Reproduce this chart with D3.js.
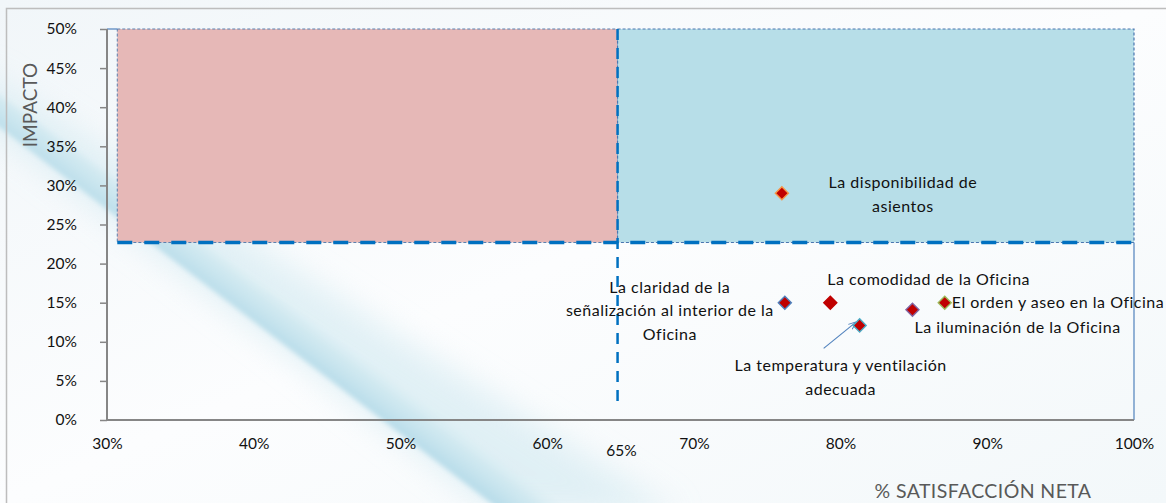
<!DOCTYPE html>
<html>
<head>
<meta charset="utf-8">
<script src="https://cdn.jsdelivr.net/npm/d3@7"></script>
<style>
  html, body { margin: 0; padding: 0; background: #fff; }
  svg { display: block; font-family: Lato, "Noto Sans", sans-serif; }
</style>
</head>
<body>
<svg id="chart" width="1166" height="503"></svg>
<script>
// ---- data ----
const labels = [
  ["La disponibilidad de", "asientos"],
  ["La claridad de la", "señalización al interior de la", "Oficina"],
  ["La comodidad de la Oficina"],
  ["La temperatura y ventilación", "adecuada"],
  ["La iluminación de la Oficina"],
  ["El orden y aseo en la Oficina"]
];
const satisfaccion = [0.760, 0.762, 0.793, 0.813, 0.849, 0.871];
const impacto      = [0.290, 0.150, 0.150, 0.121, 0.141, 0.150];
const xTicks = [0.3, 0.4, 0.5, 0.6, 0.7, 0.8, 0.9, 1.0];
const yTicks = [0, 0.05, 0.1, 0.15, 0.2, 0.25, 0.3, 0.35, 0.4, 0.45, 0.5];
const satThreshold = 0.648;     // vertical divider
const satThresholdLabel = "65%";
const impThreshold = 0.227;     // horizontal divider
const quadStart = 0.307;        // left edge of shaded quadrant
const dividerBottom = 0.022;    // lower end of vertical divider
const xTitle = "% SATISFACCIÓN NETA";
const yTitle = "IMPACTO";

// ---- styles (not data) ----
const outlineColors = ["#F79646", "#4F81BD", "#C00000", "#4BACC6", "#8064A2", "#9BBB59"];
// label placement offsets relative to point: [dx, dy of first baseline, anchor]
const labelPlace = [
  [121, -5, "middle"],
  [-115, -10, "middle"],
  [-3, -18, "start"],
  [-19, 46, "middle"],
  [2, 23, "start"],
  [7, 5, "start"]
];
const lineH = 23.5;

const svg = d3.select("#chart");
const W = 1166, H = 503;

// ---- background with swoosh ----
const defs = svg.append("defs");
const bg = defs.append("linearGradient").attr("id", "bgGrad")
  .attr("x1", 0).attr("y1", 0).attr("x2", 1).attr("y2", 1);
bg.append("stop").attr("offset", "0%").attr("stop-color", "#f1f6f9");
bg.append("stop").attr("offset", "50%").attr("stop-color", "#fcfdfe");
bg.append("stop").attr("offset", "100%").attr("stop-color", "#f3f8fa");
svg.append("rect").attr("width", W).attr("height", H).attr("fill", "url(#bgGrad)");

const blur = defs.append("filter").attr("id", "soft").attr("x", "-20%").attr("y", "-20%").attr("width", "140%").attr("height", "140%");
blur.append("feGaussianBlur").attr("stdDeviation", 2.5);
const blur2 = defs.append("filter").attr("id", "soft2").attr("x", "-20%").attr("y", "-20%").attr("width", "140%").attr("height", "140%");
blur2.append("feGaussianBlur").attr("stdDeviation", 16);

// wide faint band
svg.append("path")
  .attr("d", "M-20,70 L-20,120 L500,515 L680,515 Z")
  .attr("fill", "#d6ebf2").attr("opacity", 0.7).attr("filter", "url(#soft2)");
// stronger band near its lower edge
const bandGrad = defs.append("linearGradient").attr("id", "bandGrad")
  .attr("gradientUnits", "userSpaceOnUse")
  .attr("x1", 230).attr("y1", 303).attr("x2", 254).attr("y2", 271);
bandGrad.append("stop").attr("offset", "0%").attr("stop-color", "#b9ddea").attr("stop-opacity", 1);
bandGrad.append("stop").attr("offset", "55%").attr("stop-color", "#c8e5ee").attr("stop-opacity", 0.7);
bandGrad.append("stop").attr("offset", "100%").attr("stop-color", "#d6ecf2").attr("stop-opacity", 0);
svg.append("path")
  .attr("d", "M-20,80 L-20,112 L500,510 L570,510 Z")
  .attr("fill", "url(#bandGrad)").attr("filter", "url(#soft)");

// outer frame
svg.append("path").attr("d", `M6.5,${H} L6.5,8.5 L${W},8.5`)
  .attr("fill", "none").attr("stroke", "#bdbdbd").attr("stroke-width", 1.5);

// ---- scales ----
const x = d3.scaleLinear().domain([0.30, 1.00]).range([107, 1134]);
const y = d3.scaleLinear().domain([0, 0.50]).range([420, 29]);
const pct = d3.format(".0%");

// ---- quadrants ----
svg.append("rect")
  .attr("x", x(quadStart)).attr("y", y(0.5))
  .attr("width", x(satThreshold) - x(quadStart)).attr("height", y(impThreshold) - y(0.5))
  .attr("fill", "#E6B8B7").attr("stroke", "#5b7fae").attr("stroke-width", 1)
  .attr("stroke-dasharray", "3,2");
svg.append("rect")
  .attr("x", x(satThreshold)).attr("y", y(0.5))
  .attr("width", x(1.0) - x(satThreshold)).attr("height", y(impThreshold) - y(0.5))
  .attr("fill", "#B7DEE8").attr("stroke", "#4a76b0").attr("stroke-width", 1.2)
  .attr("stroke-dasharray", "3,2");

// thin blue frame lines (top-left stub and right edge)
svg.append("line").attr("x1", x(0.30)).attr("x2", x(quadStart)).attr("y1", y(0.5)).attr("y2", y(0.5))
  .attr("stroke", "#4F81BD").attr("stroke-width", 1.2);
svg.append("line").attr("x1", x(1.0)).attr("x2", x(1.0)).attr("y1", y(impThreshold)).attr("y2", y(0))
  .attr("stroke", "#4F81BD").attr("stroke-width", 1.2);

// horizontal thick dashed divider
svg.append("line")
  .attr("x1", x(quadStart)).attr("x2", x(1.0)).attr("y1", y(impThreshold)).attr("y2", y(impThreshold))
  .attr("stroke", "#0070C0").attr("stroke-width", 3.5).attr("stroke-dasharray", "15,12");
// vertical dashed divider
svg.append("line")
  .attr("x1", x(satThreshold)).attr("x2", x(satThreshold)).attr("y1", y(0.5)).attr("y2", y(dividerBottom))
  .attr("stroke", "#0070C0").attr("stroke-width", 2.5).attr("stroke-dasharray", "11,8");

// ---- axes ----
const axisColor = "#868686";
const yAxis = svg.append("g").attr("transform", `translate(${x(0.30)},0)`)
  .call(d3.axisLeft(y).tickValues(yTicks).tickFormat(pct).tickSize(7).tickPadding(23));
const xAxis = svg.append("g").attr("transform", `translate(0,${y(0)})`)
  .call(d3.axisBottom(x).tickValues(xTicks).tickFormat(pct).tickSize(0).tickPadding(18));
[yAxis, xAxis].forEach(g => {
  g.select(".domain").attr("stroke", axisColor).attr("stroke-width", 2);
  g.selectAll(".tick line").attr("stroke", axisColor).attr("stroke-width", 1.5);
  g.selectAll("text").attr("fill", "#111").style("font-size", "15.5px").style("font-family", "Lato, sans-serif");
});
yAxis.select(".domain").attr("d", `M0,${y(0.5)}V${y(0)}`);
xAxis.select(".domain").attr("d", `M${x(0.30)},0H${x(1.0)}`);

// 65% label for divider
svg.append("text").attr("x", x(satThreshold) + 4).attr("y", y(0) + 36)
  .attr("text-anchor", "middle").attr("fill", "#111").style("font-size", "15.5px")
  .text(satThresholdLabel);

// axis titles
svg.append("text").attr("transform", `translate(37,105) rotate(-90)`)
  .attr("text-anchor", "middle").attr("fill", "#595959").style("font-size", "19px")
  .text(yTitle);
svg.append("text").attr("x", 983).attr("y", 498)
  .attr("text-anchor", "middle").attr("fill", "#595959").style("font-size", "19.5px")
  .style("letter-spacing", "0.4px")
  .text(xTitle);

// ---- arrow (temperatura) ----
defs.append("marker").attr("id", "arr").attr("viewBox", "0 0 10 10").attr("refX", 9).attr("refY", 5)
  .attr("markerWidth", 7).attr("markerHeight", 7).attr("orient", "auto-start-reverse")
  .append("path").attr("d", "M0,1 L10,5 L0,9").attr("fill", "none").attr("stroke", "#4F81BD").attr("stroke-width", 1.3);
svg.append("line")
  .attr("x1", x(satisfaccion[3]) - 36).attr("y1", y(impacto[3]) + 23)
  .attr("x2", x(satisfaccion[3]) - 4).attr("y2", y(impacto[3]) - 3)
  .attr("stroke", "#4F81BD").attr("stroke-width", 1.1).attr("marker-end", "url(#arr)");

// ---- points ----
const diamond = d3.symbol().type(d3.symbolSquare).size(85);
svg.append("g").selectAll("path").data(satisfaccion).join("path")
  .attr("d", diamond)
  .attr("transform", (d, i) => `translate(${x(d)},${y(impacto[i])}) rotate(45)`)
  .attr("fill", "#C00000")
  .attr("stroke", (d, i) => outlineColors[i]).attr("stroke-width", 1.4);

// ---- labels ----
const lg = svg.append("g").style("font-size", "16px").style("letter-spacing", "0.5px").attr("fill", "#111");
labels.forEach((lines, i) => {
  const [dx, dy, anchor] = labelPlace[i];
  const t = lg.append("text")
    .attr("x", x(satisfaccion[i]) + dx)
    .attr("y", y(impacto[i]) + dy)
    .attr("text-anchor", anchor);
  lines.forEach((ln, j) => {
    t.append("tspan").attr("x", x(satisfaccion[i]) + dx).attr("dy", j === 0 ? 0 : lineH).text(ln);
  });
});
</script>
</body>
</html>
